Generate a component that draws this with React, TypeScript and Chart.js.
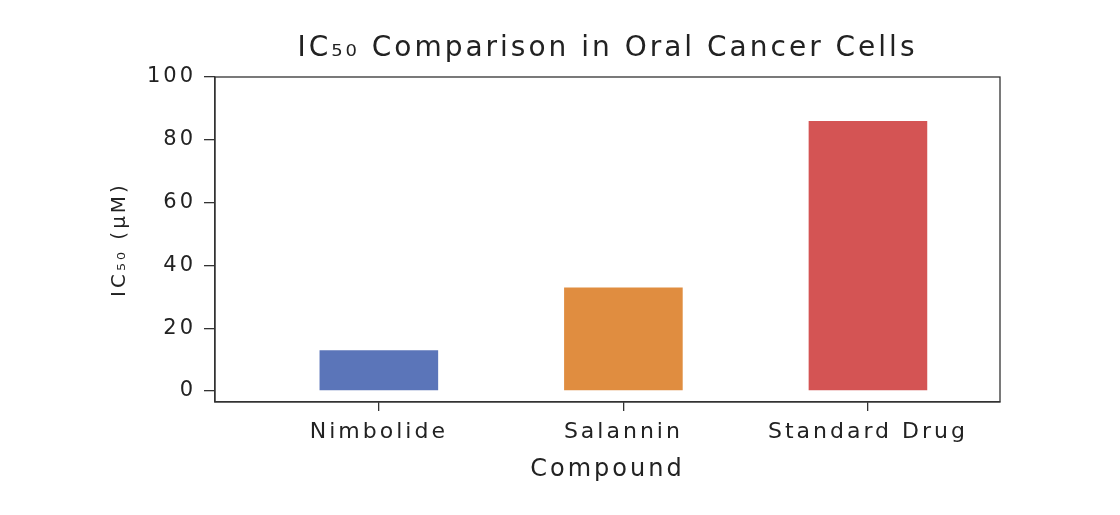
import React, { useEffect, useRef } from "react";
import { Chart, registerables } from "chart.js";

Chart.register(...registerables);

const categories = ["Nimbolide", "Salannin", "Standard Drug"];
const ic50Values = [13, 33, 86];
const barColors = ["#5B75B9", "#E08D40", "#D45454"];
const yTicks = [0, 20, 40, 60, 80, 100];

const FONT = "'DejaVu Sans', sans-serif";
const SPACING = "3px";

const spacingPlugin = {
  id: "spacing",
  beforeUpdate(chart: any) {
    chart.ctx.letterSpacing = SPACING;
  },
  beforeLayout(chart: any) {
    chart.ctx.letterSpacing = SPACING;
  },
  beforeDraw(chart: any) {
    chart.ctx.letterSpacing = SPACING;
  },
};

const framePlugin = {
  id: "frame",
  afterDatasetsDraw(chart: any) {
    const { ctx, chartArea } = chart;
    ctx.save();
    ctx.strokeStyle = "#333333";
    ctx.lineWidth = 1.3;
    ctx.strokeRect(chartArea.left, chartArea.top, chartArea.right - chartArea.left, chartArea.bottom - chartArea.top);
    ctx.restore();
  },
};

export default function App() {
  const ref = useRef<HTMLCanvasElement | null>(null);

  useEffect(() => {
    if (!ref.current) return;
    const ctx2d = ref.current.getContext("2d") as any;
    if (ctx2d) ctx2d.letterSpacing = SPACING;
    const chart = new Chart(ref.current, {
      type: "bar",
      data: {
        datasets: [
          {
            data: categories.map((c, i) => ({ x: i, y: ic50Values[i] })),
            backgroundColor: barColors,
            borderWidth: 0,
            categoryPercentage: 1,
            barPercentage: 0.485,
          },
        ],
      },
      plugins: [spacingPlugin, framePlugin],
      options: {
        animation: false,
        responsive: false,
        maintainAspectRatio: false,
        layout: { padding: { left: 0, right: 120, top: 0, bottom: 0 } },
        plugins: {
          legend: { display: false },
          tooltip: { enabled: false },
          title: {
            display: true,
            fullSize: false,
            text: "IC₅₀ Comparison in Oral Cancer Cells",
            color: "#222222",
            font: { family: FONT, size: 28, weight: "normal", lineHeight: 1.2 },
            padding: { top: 32, bottom: 11.4 },
          },
        },
        scales: {
          x: {
            type: "linear",
            offset: false,
            min: -0.67,
            max: 2.54,
            afterFit: (s: any) => {
              s.height = 113;
            },
            afterBuildTicks: (s: any) => {
              s.ticks = categories.map((_, i) => ({ value: i }));
            },
            grid: {
              offset: false,
              drawOnChartArea: false,
              drawTicks: true,
              tickLength: 9,
              color: "#333333",
              lineWidth: 1.3,
            },
            border: { display: true, color: "#333333", width: 1.3 },
            ticks: {
              color: "#222222",
              font: { family: FONT, size: 22 },
              padding: 8,
              maxRotation: 0,
              autoSkip: false,
              callback: (v: any) => categories[v as number] ?? "",
            },
            title: {
              display: true,
              text: "Compound",
              color: "#222222",
              font: { family: FONT, size: 24 },
              padding: { top: 0, bottom: 31 },
            },
          },
          y: {
            type: "linear",
            min: -3.5,
            max: 100,
            afterFit: (s: any) => {
              s.width = 215;
            },
            afterBuildTicks: (s: any) => {
              s.ticks = yTicks.map((v) => ({ value: v }));
            },
            grid: {
              drawOnChartArea: false,
              drawTicks: true,
              tickLength: 11,
              color: "#333333",
              lineWidth: 1.3,
            },
            border: { display: true, color: "#333333", width: 1.3 },
            ticks: {
              color: "#222222",
              font: { family: FONT, size: 21 },
              padding: 8,
              autoSkip: false,
            },
            title: {
              display: true,
              text: "IC₅₀ (µM)",
              color: "#222222",
              font: { family: FONT, size: 20 },
              padding: { top: 108, bottom: 0 },
            },
          },
        },
      },
    });
    return () => chart.destroy();
  }, []);

  return (
    <div style={{ position: "absolute", left: 0, top: 0, width: 1120, height: 515, background: "#ffffff" }}>
      <canvas ref={ref} width={1120} height={515} style={{ width: 1120, height: 515, display: "block" }} />
    </div>
  );
}
